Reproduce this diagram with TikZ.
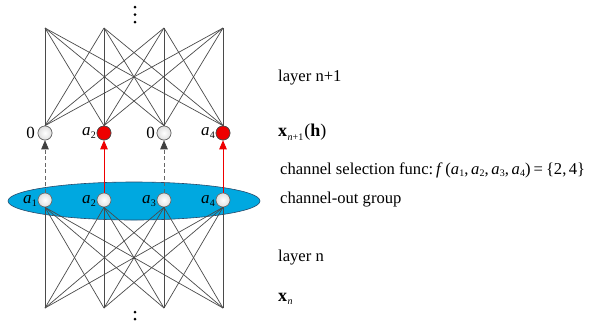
\documentclass[tikz,border=0pt]{standalone}
\usepackage{fontspec}
\setmainfont{Liberation Serif}
\usetikzlibrary{arrows.meta,shapes.geometric}
\definecolor{wire}{HTML}{4A4A4A}
\definecolor{grpfill}{HTML}{00A8E0}
\definecolor{grpline}{HTML}{2A4A6A}
\definecolor{redn}{HTML}{EE0000}
\newcommand{\vsub}[2]{\textit{#1}\kern0.3pt\raisebox{-0.35ex}{\fontsize{10}{10}\selectfont #2}}
\tikzset{
  neuron/.style={circle,draw=gray!80!black,line width=0.6pt,inner sep=0pt,minimum size=14pt,shade,inner color=white,outer color=gray!25},
  redneuron/.style={circle,draw=gray!60!black,line width=0.6pt,inner sep=0pt,minimum size=14pt,fill=redn},
  wireline/.style={draw=wire,line width=0.7pt},
  lbl/.style={font=\fontsize{17}{19}\selectfont,inner sep=0pt},
  rtext/.style={anchor=west,font=\fontsize{16.6}{19}\selectfont,inner sep=0pt},
  dotmark/.style={circle,fill=black,inner sep=0pt,minimum size=3pt},
  greyarrow/.style={dash pattern=on 4pt off 2.5pt,draw=gray!80!black,line width=0.7pt,-{Triangle[length=9pt,width=7.5pt,color=black!75]}},
  redarrow/.style={draw=redn,line width=0.8pt,-{Triangle[length=9pt,width=7.5pt]}}
}
\begin{document}
\begin{tikzpicture}[x=1pt,y=-1pt]
\useasboundingbox (0,0) rectangle (604,322);
% group ellipse
\node[ellipse,draw=grpline,fill=grpfill,line width=0.6pt,minimum width=252pt,minimum height=38pt,inner sep=0pt] (grp) at (134,201) {};
% top points
\foreach \i/\x in {1/45,2/104,3/164,4/223}{
  \coordinate (t\i) at (\x,28);
  \coordinate (b\i) at (\x,308);
}
% upper nodes
\node[neuron] (u1) at (45,133) {};
\node[redneuron] (u2) at (104,133) {};
\node[neuron] (u3) at (164,133) {};
\node[redneuron] (u4) at (223,133) {};
% lower nodes
\foreach \i/\x in {1/45,2/104,3/164,4/223}{
  \node[neuron] (l\i) at (\x,200) {};
}
% wires
\foreach \i in {1,2,3,4}{
  \foreach \j in {1,2,3,4}{
    \draw[wireline] (u\i.north) -- (t\j);
    \draw[wireline] (l\i.south) -- (b\j);
  }
}
% redraw nodes on top
\node[neuron] at (u1) {};
\node[redneuron] at (u2) {};
\node[neuron] at (u3) {};
\node[redneuron] at (u4) {};
% arrows
\draw[greyarrow] (l1.north) -- (u1.south);
\draw[greyarrow] (l3.north) -- (u3.south);
\draw[redarrow] (l2.north) -- (u2.south);
\draw[redarrow] (l4.north) -- (u4.south);
% labels upper
\node[lbl,anchor=east] (z1) at (35,133) {0};
\node[lbl,anchor=east] (la2) at (96,133) {\vsub{a}{2}};
\node[lbl,anchor=east] (z3) at (155,133) {0};
\node[lbl,anchor=east] (la4) at (215,133) {\vsub{a}{4}};
% labels lower
\node[lbl,anchor=east] (ba1) at (37,201) {\vsub{a}{1}};
\node[lbl,anchor=east] (ba2) at (96,201) {\vsub{a}{2}};
\node[lbl,anchor=east] (ba3) at (156,201) {\vsub{a}{3}};
\node[lbl,anchor=east] (ba4) at (215,201) {\vsub{a}{4}};
% dots
\node[dotmark] (d1) at (135,7) {};
\node[dotmark] (d2) at (135,14.5) {};
\node[dotmark] (d3) at (135,22) {};
\node[dotmark] (d4) at (135,312) {};
\node[dotmark] (d5) at (135,319) {};
% right texts
\node[rtext] (r1) at (278,78) {layer n+1};
\node[rtext,font=\fontsize{18}{20}\selectfont] (r2) at (278,132) {\textbf{x}\kern0.5pt\raisebox{-0.45ex}{\fontsize{10}{10}\selectfont\textit{n}+1}\kern1pt(\textbf{h})};
\node[rtext] (r3) at (280,170) {channel selection func:\kern3pt\textit{f}\kern2.5pt(\vsub{a}{1},\kern2.5pt\vsub{a}{2},\kern2.5pt\vsub{a}{3},\kern2.5pt\vsub{a}{4})\kern3pt=\kern3pt\{2,\kern2.5pt4\}};
\node[rtext] (r4) at (280,200) {channel-out group};
\node[rtext] (r5) at (278,258) {layer n};
\node[rtext,font=\fontsize{18}{20}\selectfont] (r6) at (278,299) {\textbf{x}\kern0.5pt\raisebox{-0.45ex}{\fontsize{10}{10}\selectfont\textit{n}}};
\end{tikzpicture}
\end{document}
